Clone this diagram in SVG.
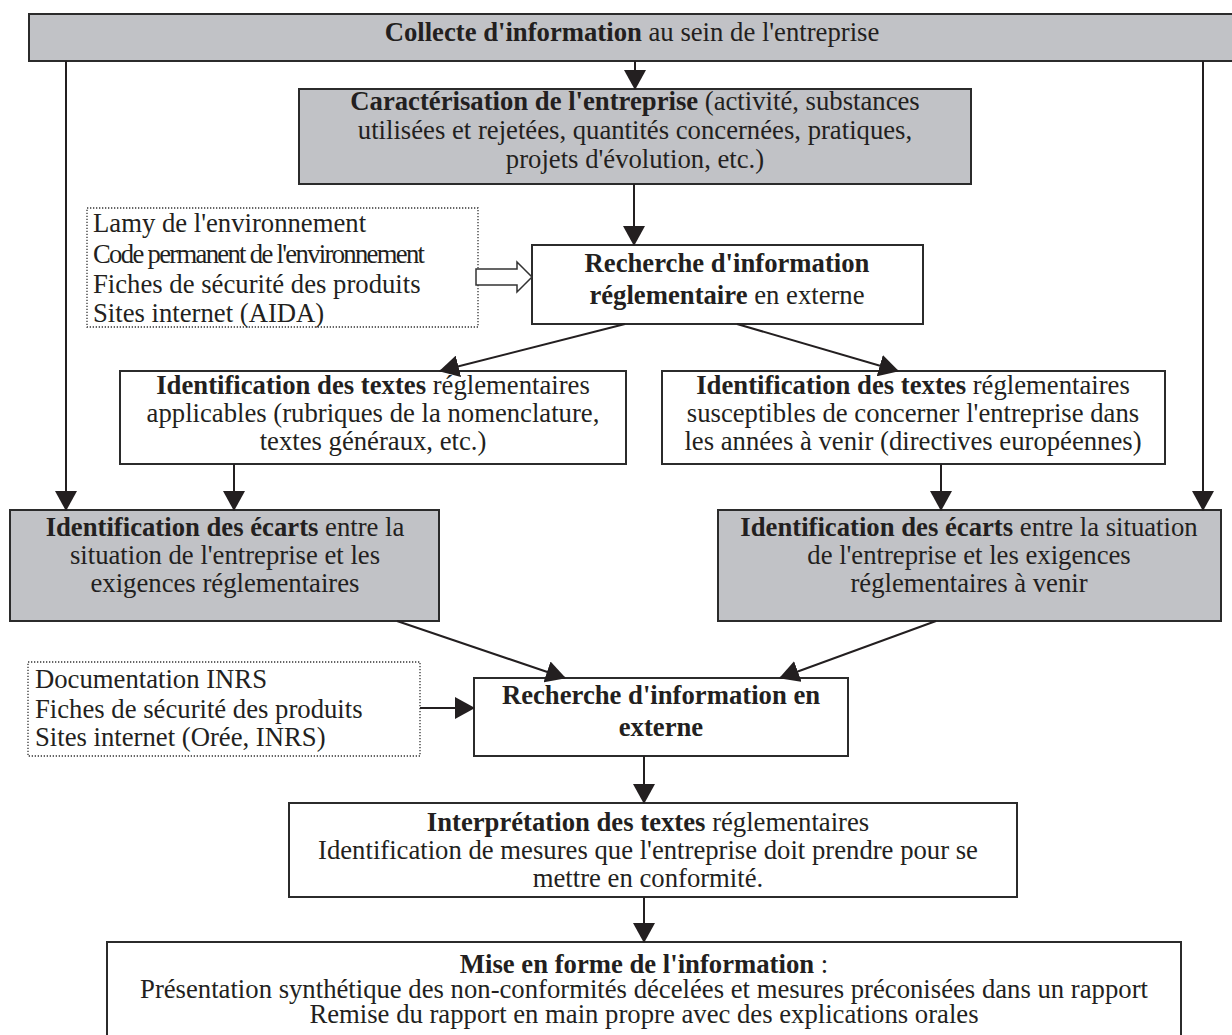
<svg xmlns="http://www.w3.org/2000/svg" width="1232" height="1035" viewBox="0 0 1232 1035">
<defs>
<style>
text{font-family:"Liberation Serif","Times New Roman",serif;font-size:26.7px;fill:#231f20}
.c{text-anchor:middle}
.b{font-weight:bold}
.grey{fill:#c1c2c6;stroke:#2b2b2b;stroke-width:2}
.white{fill:#fff;stroke:#2b2b2b;stroke-width:2}
.dot{fill:#fff;stroke:#333;stroke-width:1.3;stroke-dasharray:1.3 1.7}
.conn{stroke:#231f20;stroke-width:2;fill:none}
.arr{marker-end:url(#ah)}
</style>
<marker id="ah" markerUnits="userSpaceOnUse" viewBox="0 0 20 22" markerWidth="20" markerHeight="22" refX="19" refY="11" orient="auto">
<path d="M0,0 L20,11 L0,22 z" fill="#231f20"/>
</marker>
</defs>
<rect width="1232" height="1035" fill="#fff"/>
<g id="collecte">
<rect class="grey" x="29" y="14" width="1215" height="47"/>
<text class="c" x="632" y="41"><tspan class="b">Collecte d'information</tspan> au sein de l'entreprise</text>
</g>
<g id="caracterisation">
<rect class="grey" x="299" y="89" width="672" height="95"/>
<text class="c" x="635" y="110"><tspan class="b">Caractérisation de l'entreprise</tspan> (activité, substances</text>
<text class="c" x="635" y="139">utilisées et rejetées, quantités concernées, pratiques,</text>
<text class="c" x="635" y="168">projets d'évolution, etc.)</text>
</g>
<g id="sources1">
<rect class="dot" x="87" y="208" width="391" height="119"/>
<text x="93" y="232">Lamy de l'environnement</text>
<text x="93" y="263" textLength="332" lengthAdjust="spacing">Code permanent de l'environnement</text>
<text x="93" y="293">Fiches de sécurité des produits</text>
<text x="93" y="322">Sites internet (AIDA)</text>
</g>
<g id="recherche1">
<rect class="white" x="532" y="245" width="391" height="79"/>
<text class="c" x="727" y="272"><tspan class="b">Recherche d'information</tspan></text>
<text class="c" x="727" y="304"><tspan class="b">réglementaire</tspan> en externe</text>
</g>
<g id="ident1">
<rect class="white" x="120" y="371" width="506" height="93"/>
<text class="c" x="373" y="394"><tspan class="b">Identification des textes</tspan> réglementaires</text>
<text class="c" x="373" y="422">applicables (rubriques de la nomenclature,</text>
<text class="c" x="373" y="450">textes généraux, etc.)</text>
</g>
<g id="ident2">
<rect class="white" x="662" y="371" width="503" height="93"/>
<text class="c" x="913" y="394"><tspan class="b">Identification des textes</tspan> réglementaires</text>
<text class="c" x="913" y="422">susceptibles de concerner l'entreprise dans</text>
<text class="c" x="913" y="450">les années à venir (directives européennes)</text>
</g>
<g id="ecarts1">
<rect class="grey" x="10" y="510" width="429" height="111"/>
<text class="c" x="225" y="536"><tspan class="b">Identification des écarts</tspan> entre la</text>
<text class="c" x="225" y="564">situation de l'entreprise et les</text>
<text class="c" x="225" y="592">exigences réglementaires</text>
</g>
<g id="ecarts2">
<rect class="grey" x="718" y="510" width="503" height="111"/>
<text class="c" x="969" y="536"><tspan class="b">Identification des écarts</tspan> entre la situation</text>
<text class="c" x="969" y="564">de l'entreprise et les exigences</text>
<text class="c" x="969" y="592">réglementaires à venir</text>
</g>
<g id="sources2">
<rect class="dot" x="28" y="662" width="392" height="94"/>
<text x="35" y="688">Documentation INRS</text>
<text x="35" y="718">Fiches de sécurité des produits</text>
<text x="35" y="746">Sites internet (Orée, INRS)</text>
</g>
<g id="recherche2">
<rect class="white" x="474" y="678" width="374" height="78"/>
<text class="c" x="661" y="704"><tspan class="b">Recherche d'information en</tspan></text>
<text class="c" x="661" y="736"><tspan class="b">externe</tspan></text>
</g>
<g id="interpretation">
<rect class="white" x="289" y="803" width="728" height="94"/>
<text class="c" x="648" y="831"><tspan class="b">Interprétation des textes</tspan> réglementaires</text>
<text class="c" x="648" y="859">Identification de mesures que l'entreprise doit prendre pour se</text>
<text class="c" x="648" y="887">mettre en conformité.</text>
</g>
<g id="miseenforme">
<rect class="white" x="107" y="942" width="1074" height="100"/>
<text class="c" x="644" y="973"><tspan class="b">Mise en forme de l'information</tspan> :</text>
<text class="c" x="644" y="998">Présentation synthétique des non-conformités décelées et mesures préconisées dans un rapport</text>
<text class="c" x="644" y="1023">Remise du rapport en main propre avec des explications orales</text>
</g>
<g id="connectors">
<line class="conn arr" x1="635" y1="61" x2="635" y2="89"/>
<line class="conn arr" x1="634" y1="184" x2="634" y2="245"/>
<line class="conn arr" x1="66" y1="61" x2="66" y2="510"/>
<line class="conn arr" x1="1203" y1="61" x2="1203" y2="510"/>
<polygon points="476,269 517,269 517,262 532,277 517,292 517,285 476,285" fill="#fff" stroke="#333" stroke-width="1.5"/>
<line class="conn arr" x1="625" y1="324" x2="440" y2="371"/>
<line class="conn arr" x1="737" y1="324" x2="898" y2="371"/>
<line class="conn arr" x1="234" y1="464" x2="234" y2="510"/>
<line class="conn arr" x1="941" y1="464" x2="941" y2="510"/>
<line class="conn arr" x1="397" y1="621" x2="565" y2="678"/>
<line class="conn arr" x1="936" y1="621" x2="780" y2="678"/>
<line class="conn arr" x1="420" y1="708" x2="474" y2="708"/>
<line class="conn arr" x1="644" y1="756" x2="644" y2="803"/>
<line class="conn arr" x1="644" y1="897" x2="644" y2="942"/>
</g>
</svg>
